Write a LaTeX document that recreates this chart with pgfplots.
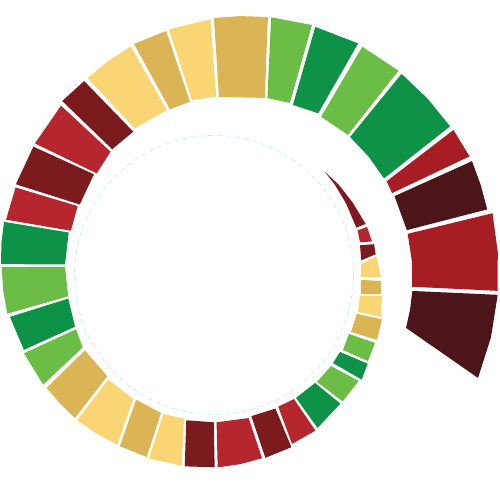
\documentclass[border=0pt]{standalone}
\usepackage{pgfplots}
\pgfplotsset{compat=1.18}
\definecolor{dg}{HTML}{0E9247}
\definecolor{lg}{HTML}{6BBD45}
\definecolor{tn}{HTML}{DBB455}
\definecolor{yl}{HTML}{F9D673}
\definecolor{rd}{HTML}{B5262F}
\definecolor{dr}{HTML}{7C1B1D}
\definecolor{rb}{HTML}{A71D24}
\definecolor{vd}{HTML}{4B151A}
\definecolor{cl}{HTML}{BDE6F6}
\begin{document}
\begin{tikzpicture}
\begin{axis}[scale only axis, width=10cm, height=10cm,
  xmin=-214, xmax=286, ymin=-225, ymax=275,
  axis line style={draw=none}, ticks=none,
  every axis plot/.append style={data cs=polar, draw=none}]
\draw[cl, densely dashed, line width=0.3pt] (axis cs:0,0) circle[radius=139.5];
% angle (deg), radius
\addplot[fill=dr] coordinates {(43,151.5) (36.6,150.8) (28.5,150.2) (18.4,150) (18.6,160) (27.5,156.5) (35.8,154)};
\addplot[fill=rd] coordinates {(17.3,150.5) (12.6,149.6) (12.0,161.5) (17.4,160.5)};
\addplot[fill=dr] coordinates {(11.5,149) (5.7,148) (7.3,163) (10.9,163)};
\addplot[fill=yl] coordinates {(4.3,147.7) (-0.8,147) (-0.7,167) (6.6,163.4)};
\addplot[fill=tn] coordinates {(-1.9,147) (-7.4,148) (-6.5,168) (-2.1,167)};
\addplot[fill=yl] coordinates {(-8.2,147.5) (-14.4,148.7) (-14.1,172) (-7.1,169.3)};
\addplot[fill=tn] coordinates {(-15.2,148) (-22.6,148.4) (-21.7,175.5) (-14.8,173.7)};
\addplot[fill=lg] coordinates {(-23.6,147.3) (-30.2,149.2) (-29.2,176.4) (-22.9,174.8)};
\addplot[fill=dg] coordinates {(-31.4,147.7) (-36.5,148) (-35.3,181) (-30.0,177.4)};
\addplot[fill=lg] coordinates {(-37.9,148.2) (-46.1,148.5) (-44.5,180.3) (-36.2,179.4)};
\addplot[fill=dg] coordinates {(-46.9,147.9) (-56.3,147.8) (-55.9,184.7) (-45.5,180.3)};
\addplot[fill=rd] coordinates {(-57.2,147.6) (-64.0,146.5) (-65.2,186.1) (-56.9,185.8)};
\addplot[fill=dr] coordinates {(-65.3,147) (-75.2,146) (-74.3,189.9) (-65.8,188.8)};
\addplot[fill=rd] coordinates {(-76.4,147.2) (-89.0,147.3) (-88.9,192.4) (-82.1,191) (-75.3,189.4)};
\addplot[fill=dr] coordinates {(-90.1,147.3) (-100.8,147.9) (-98.7,193.6) (-89.8,192.3)};
\addplot[fill=yl] coordinates {(-101.8,146.6) (-110,148) (-109.5,194.5) (-99.6,193.6)};
\addplot[fill=tn] coordinates {(-111,147.8) (-122,147.1) (-118.8,195.4) (-110.3,194)};
\addplot[fill=yl] coordinates {(-123,148) (-135.3,148.8) (-133.3,199.5) (-126.5,197.4) (-119.7,195.3)};
\addplot[fill=tn] coordinates {(-136.5,147.1) (-149.7,149.4) (-146,201.9) (-140.1,200.6) (-134.2,199.4)};
\addplot[fill=lg] coordinates {(-151.1,150) (-158.5,148.3) (-157.6,205.5) (-147.3,203)};
\addplot[fill=dg] coordinates {(-159.6,148.3) (-170.8,147.6) (-168.4,208.3) (-158.5,204.3)};
\addplot[fill=lg] coordinates {(-171.7,147.4) (-183.1,149.2) (-182.2,212.5) (-175.8,211.4) (-169.4,210.3)};
\addplot[fill=dg] coordinates {(-184.1,149.4) (-196.3,151.4) (-194.2,216.6) (-188.6,215) (-182.9,213.3)};
\addplot[fill=rd] coordinates {(-197.2,149.8) (-206.8,152.7) (-203.8,216.9) (-194.9,215.2)};
\addplot[fill=dr] coordinates {(-207.7,151.6) (-220.0,156.7) (-215.4,221.6) (-204.6,217.9)};
\addplot[fill=rd] coordinates {(-220.9,155.2) (-230.0,160.9) (-227.9,228.2) (-216.3,222.2)};
\addplot[fill=dr] coordinates {(-231.0,161.8) (-240.6,164.5) (-236.2,233.4) (-228.9,230.9)};
\addplot[fill=yl] coordinates {(-241.6,166.6) (-254,171.6) (-250.0,243.3) (-243.6,238.6) (-237.3,234)};
\addplot[fill=tn] coordinates {(-255.1,171.4) (-262.1,175) (-258.9,248.7) (-250.9,244.5)};
\addplot[fill=yl] coordinates {(-262.8,176.4) (-270.7,178.3) (-269.2,255.7) (-259.6,249.8)};
\addplot[fill=tn] coordinates {(-271.6,178.1) (-286,184.2) (-281.8,263.6) (-275.9,260.3) (-270,257)};
\addplot[fill=lg] coordinates {(-286.8,184.8) (-293.8,188) (-291.4,268.5) (-282.5,264)};
\addplot[fill=dg] coordinates {(-294.9,187.5) (-302.8,192.4) (-301.9,272.8) (-292.2,268)};
\addplot[fill=lg] coordinates {(-304.1,191.1) (-313.7,193.8) (-312.1,275.3) (-303.0,272.2)};
\addplot[fill=dg] coordinates {(-314.6,193.8) (-322.5,194.7) (-330.4,195.5) (-327.8,279) (-320.4,277) (-313.0,275)};
\addplot[fill=rb] coordinates {(-331.5,196.4) (-335.3,196) (-335.1,281.7) (-328.8,280)};
\addplot[fill=vd] coordinates {(-336.4,197) (-346.9,198) (-346.5,281) (-341.4,281.5) (-336.2,282)};
\addplot[fill=rb] coordinates {(-348,198) (-355.7,198.3) (-363.4,198.6) (-363.2,284.1) (-355.4,284.7) (-347.5,285.3)};
\addplot[fill=vd] coordinates {(-364.6,199) (-370,199.1) (-375.4,199.2) (-381.3,283.4) (-372.7,283.9) (-364.0,284.4)};
\end{axis}
\end{tikzpicture}
\end{document}
